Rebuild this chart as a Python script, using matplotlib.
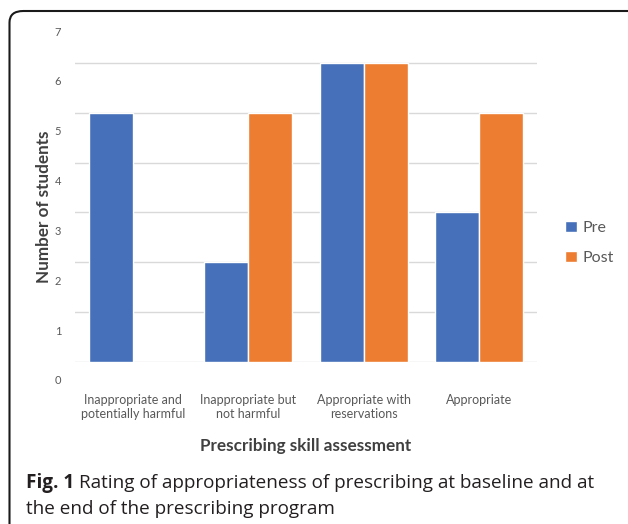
import matplotlib
matplotlib.use("Agg")
import matplotlib.pyplot as plt
import matplotlib.transforms as mtransforms
from matplotlib.patches import FancyBboxPatch
import numpy as np

# Data
categories = ["Inappropriate and\npotentially harmful",
              "Inappropriate but\nnot harmful",
              "Appropriate with\nreservations",
              "Appropriate"]
pre_values = [5, 2, 6, 3]
post_values = [0, 5, 6, 5]
series_names = ["Pre", "Post"]
y_ticks = [0, 1, 2, 3, 4, 5, 6, 7]

BLUE = "#4670B9"
ORANGE = "#ED7D31"
GRAY = "#595959"

W, H = 628, 524
fig = plt.figure(figsize=(W / 100, H / 100), dpi=100)
fig.patch.set_facecolor("white")

# Rounded frame around the figure (open to the right and bottom)
frame = FancyBboxPatch((9.5 / W, -0.2), 1.2, 1.2 - 11 / H,
                       boxstyle="round,pad=0,rounding_size=0.022",
                       transform=fig.transFigure, fill=False,
                       edgecolor="#1a1a1a", linewidth=1.5, zorder=0)
fig.patches.append(frame)

ax = fig.add_axes([75 / W, 1 - 362 / H, (537 - 75) / W, (362 - 13) / H])
x = np.arange(len(categories))
bw = 0.38
ax.bar(x - bw / 2, pre_values, bw, color=BLUE, edgecolor="white",
       linewidth=1.0, label=series_names[0], zorder=3)
ax.bar(x + bw / 2, post_values, bw, color=ORANGE, edgecolor="white",
       linewidth=1.0, label=series_names[1], zorder=3)

ax.set_xlim(-0.5, len(categories) - 0.5)
ax.set_ylim(0, 7)
for v in y_ticks[:-1]:
    ax.axhline(v, color="#D9D9D9", linewidth=1.0, zorder=1)

for s in ax.spines.values():
    s.set_visible(False)

ax.set_yticks(y_ticks)
ax.set_yticklabels([str(v) for v in y_ticks], fontsize=8, color=GRAY,
                   family="Lato")
ax.tick_params(axis="y", length=0, pad=10)
shift = mtransforms.ScaledTranslation(0, -18 / 100, fig.dpi_scale_trans)
for lab in ax.get_yticklabels():
    lab.set_transform(lab.get_transform() + shift)

ax.set_xticks(x)
ax.set_xticklabels(categories, fontsize=9, color=GRAY, family="Lato",
                   linespacing=1.25)
ax.tick_params(axis="x", length=0, pad=23)

fig.text(306 / W, 1 - 446 / H, "Prescribing skill assessment",
         fontsize=12.3, fontweight="bold", color="#404040", family="Lato",
         ha="center", va="center")
fig.text(44 / W, 1 - 207 / H, "Number of students", rotation=90,
         fontsize=12.3, fontweight="bold", color="#404040", family="Lato",
         ha="center", va="center")

ax.legend(loc="center left", bbox_to_anchor=(551 / W, 1 - 243 / H),
          bbox_transform=fig.transFigure, frameon=False,
          prop={"family": "Lato", "size": 11.5}, labelcolor=GRAY,
          handlelength=0.7, handleheight=0.7, handletextpad=0.4,
          labelspacing=1.0)

# Caption
renderer = fig.canvas.get_renderer()
cap_kw = dict(fontsize=13.6, color="#231f20", family="Open Sans", va="baseline")
t1 = fig.text(26 / W, 1 - 488 / H, "Fig. 1", fontweight="bold", **cap_kw)
bb = t1.get_window_extent(renderer)
fig.text((bb.x1 + 5) / W, 1 - 488 / H,
         "Rating of appropriateness of prescribing at baseline and at", **cap_kw)
fig.text(26 / W, 1 - 514 / H, "the end of the prescribing program", **cap_kw)

fig.savefig("out.png", dpi=100)
